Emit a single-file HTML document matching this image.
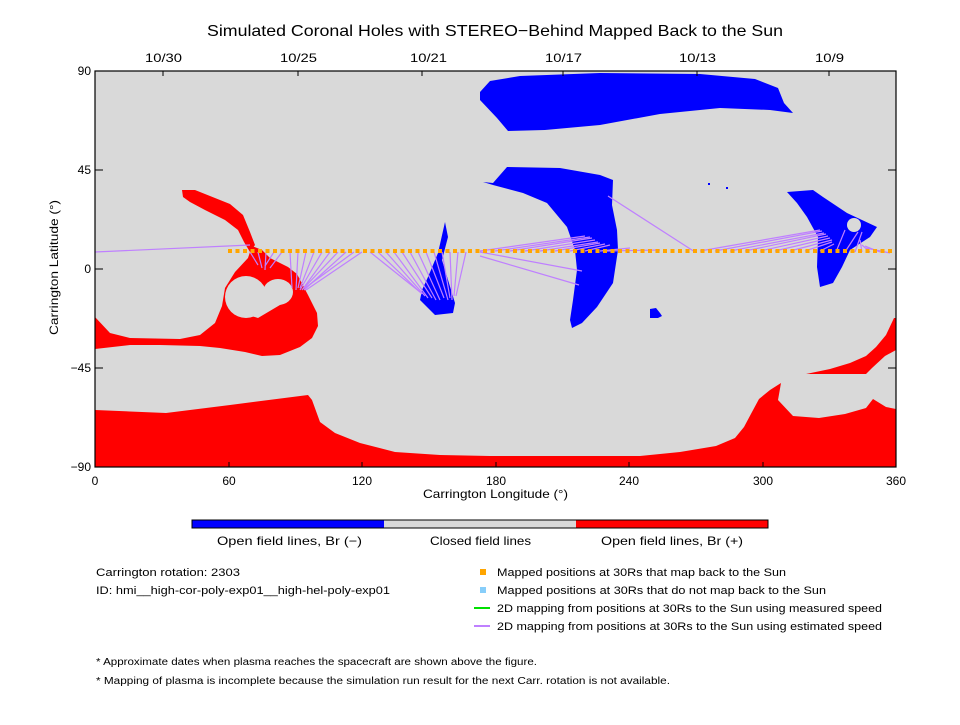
<!DOCTYPE html>
<html><head><meta charset="utf-8"><style>
body{margin:0;background:#fff;width:960px;height:720px;overflow:hidden;font-family:"Liberation Sans",sans-serif;}
svg text{font-family:"Liberation Sans",sans-serif;fill:#000;}
</style></head><body>
<svg width="960" height="720" xmlns="http://www.w3.org/2000/svg">
<text x="207" y="36" font-size="16" textLength="576" lengthAdjust="spacingAndGlyphs">Simulated Coronal Holes with STEREO−Behind Mapped Back to the Sun</text>
<g font-size="12">
<text x="145" y="62" textLength="37" lengthAdjust="spacingAndGlyphs">10/30</text><text x="280" y="62" textLength="37" lengthAdjust="spacingAndGlyphs">10/25</text><text x="410" y="62" textLength="37" lengthAdjust="spacingAndGlyphs">10/21</text><text x="545" y="62" textLength="37" lengthAdjust="spacingAndGlyphs">10/17</text><text x="679" y="62" textLength="37" lengthAdjust="spacingAndGlyphs">10/13</text><text x="815" y="62" textLength="29" lengthAdjust="spacingAndGlyphs">10/9</text>
</g>
<rect x="95" y="71" width="801" height="396" fill="#d9d9d9"/>
<polygon fill="#ff0000" points="95,410 166,413 230,405 308,395 312,400 320,422 335,433 360,443 395,452 440,455 490,456 640,456 680,452 716,446 735,438 744,427 752,412 759,399 770,390 781,383 778,400 793,416 819,418 845,414 866,408 873,399 886,407 896,409 896,467 95,467"/>
<polygon fill="#ff0000" points="806,374 830,369 850,363 866,356 876,347 886,335 894,318 896,318 896,350 885,356 872,368 866,374"/>
<polygon fill="#ff0000" points="95,317 110,333 130,338 180,339 200,335 215,323 222,306 225,288 235,272 248,258 252,246 262,250 270,258 288,267 297,274 308,295 317,313 318,326 312,338 300,347 280,355 262,356 245,352 220,348 200,346 160,345 130,345 95,349"/>
<polygon fill="#ff0000" points="182,190 195,190 210,196 230,204 243,215 250,232 255,245 250,252 244,242 238,230 225,220 205,210 190,202 183,197"/>
<ellipse cx="246" cy="297" rx="21" ry="21" fill="#d9d9d9"/>
<ellipse cx="278" cy="292" rx="15" ry="13" fill="#d9d9d9"/>
<polygon fill="#d9d9d9" points="232,310 258,318 285,302 262,298"/>
<polygon fill="#0000ff" points="480,92 490,81 520,76 600,73 700,74 755,79 778,88 784,103 793,113 770,110 720,108 660,114 600,125 545,130 508,131 497,118 480,100"/>
<polygon fill="#0000ff" points="483,182 493,183 507,167 560,168 600,175 613,180 612,205 617,230 618,250 613,283 597,307 582,323 572,328 570,320 573,300 577,270 575,250 567,227 547,203 523,193 493,185"/>
<polygon fill="#0000ff" points="650,309 656,308 660,313 662,316 658,318 650,318"/>
<rect x="708" y="183" width="2" height="2" fill="#0000ff"/><rect x="726" y="187" width="2" height="2" fill="#0000ff"/>
<polygon fill="#0000ff" points="787,192 813,190 823,197 847,213 877,227 870,237 850,250 842,267 833,283 820,287 817,267 818,237 807,217 797,203"/>
<circle cx="854" cy="225" r="7" fill="#d9d9d9"/>
<polygon fill="#0000ff" points="445,222 448,237 442,260 455,303 453,313 435,315 420,300 422,290 428,277 438,253"/>
<g stroke="#bf80ff" stroke-width="1.2" fill="none">
<polyline points="95,252 250,245"/>
<line x1="250" y1="252" x2="258" y2="265"/><line x1="258" y1="252" x2="262" y2="268"/><line x1="266" y1="252" x2="265" y2="270"/><line x1="274" y1="252" x2="265" y2="266"/><line x1="282" y1="252" x2="270" y2="268"/>
<line x1="290" y1="252" x2="292" y2="288"/><line x1="298" y1="252" x2="296" y2="290"/><line x1="306" y1="252" x2="298" y2="288"/><line x1="314" y1="252" x2="300" y2="288"/><line x1="322" y1="252" x2="300" y2="290"/><line x1="330" y1="252" x2="302" y2="290"/><line x1="338" y1="252" x2="303" y2="289"/><line x1="346" y1="252" x2="304" y2="290"/><line x1="354" y1="252" x2="305" y2="288"/><line x1="362" y1="252" x2="306" y2="290"/>
<line x1="370" y1="252" x2="420" y2="292"/><line x1="378" y1="252" x2="422" y2="294"/><line x1="386" y1="252" x2="425" y2="296"/><line x1="394" y1="252" x2="428" y2="298"/><line x1="402" y1="252" x2="432" y2="298"/><line x1="410" y1="252" x2="436" y2="300"/><line x1="418" y1="252" x2="440" y2="300"/><line x1="426" y1="252" x2="444" y2="298"/><line x1="434" y1="252" x2="448" y2="300"/><line x1="442" y1="252" x2="450" y2="298"/><line x1="450" y1="252" x2="452" y2="300"/><line x1="458" y1="252" x2="454" y2="296"/><line x1="466" y1="252" x2="456" y2="296"/>
<line x1="480" y1="252" x2="582" y2="271"/><line x1="480" y1="256" x2="579" y2="285"/>
<line x1="480" y1="251" x2="585" y2="236"/><line x1="495" y1="251" x2="590" y2="237"/><line x1="510" y1="251" x2="592" y2="238"/><line x1="525" y1="251" x2="595" y2="240"/><line x1="540" y1="251" x2="598" y2="242"/><line x1="555" y1="251" x2="600" y2="243"/><line x1="570" y1="251" x2="605" y2="244"/><line x1="585" y1="251" x2="610" y2="245"/><line x1="600" y1="251" x2="630" y2="248"/><line x1="605" y1="251" x2="660" y2="250"/>
<line x1="608" y1="196" x2="695" y2="252"/>
<line x1="700" y1="251" x2="820" y2="230"/><line x1="715" y1="251" x2="822" y2="231"/><line x1="730" y1="251" x2="824" y2="233"/><line x1="745" y1="251" x2="826" y2="234"/><line x1="760" y1="251" x2="828" y2="236"/><line x1="775" y1="251" x2="830" y2="238"/><line x1="790" y1="251" x2="832" y2="240"/><line x1="805" y1="251" x2="832" y2="242"/><line x1="820" y1="251" x2="834" y2="244"/>
<line x1="836" y1="252" x2="845" y2="230"/><line x1="845" y1="252" x2="858" y2="232"/><line x1="855" y1="252" x2="862" y2="232"/><line x1="862" y1="252" x2="860" y2="240"/><line x1="870" y1="252" x2="862" y2="245"/><line x1="880" y1="252" x2="865" y2="246"/><line x1="890" y1="253" x2="866" y2="248"/>
</g>
<line x1="228" y1="251" x2="896" y2="251" stroke="#ffa500" stroke-width="4" stroke-dasharray="4 3.5"/>
<rect x="95" y="71" width="801" height="396" fill="none" stroke="#000" stroke-width="1.2"/>
<g stroke="#000" stroke-width="1">
<line x1="229" y1="467" x2="229" y2="462"/><line x1="362" y1="467" x2="362" y2="462"/><line x1="496" y1="467" x2="496" y2="462"/><line x1="629" y1="467" x2="629" y2="462"/><line x1="763" y1="467" x2="763" y2="462"/>
<line x1="95" y1="170" x2="103" y2="170"/><line x1="95" y1="269" x2="103" y2="269"/><line x1="95" y1="368" x2="103" y2="368"/>
<line x1="896" y1="170" x2="888" y2="170"/><line x1="896" y1="269" x2="888" y2="269"/><line x1="896" y1="368" x2="888" y2="368"/>
<line x1="163" y1="71" x2="163" y2="76"/><line x1="298" y1="71" x2="298" y2="76"/><line x1="422" y1="71" x2="422" y2="76"/><line x1="563" y1="71" x2="563" y2="76"/><line x1="697" y1="71" x2="697" y2="76"/><line x1="829" y1="71" x2="829" y2="76"/>
</g>
<g font-size="12" text-anchor="middle">
<text x="95" y="485">0</text><text x="229" y="485">60</text><text x="362" y="485">120</text><text x="496" y="485">180</text><text x="629" y="485">240</text><text x="763" y="485">300</text><text x="896" y="485">360</text>
</g>
<text x="423" y="498" font-size="12" textLength="145" lengthAdjust="spacingAndGlyphs">Carrington Longitude (°)</text>
<g font-size="12" text-anchor="end">
<text x="91" y="75">90</text><text x="91" y="174">45</text><text x="91" y="273">0</text><text x="91" y="372">−45</text><text x="91" y="471">−90</text>
</g>
<text x="58" y="335" font-size="12" textLength="135" lengthAdjust="spacingAndGlyphs" transform="rotate(-90 58 335)">Carrington Latitude (°)</text>
<rect x="192" y="520" width="192" height="8" fill="#0000ff"/>
<rect x="384" y="520" width="192" height="8" fill="#d9d9d9"/>
<rect x="576" y="520" width="192" height="8" fill="#ff0000"/>
<rect x="192" y="520" width="576" height="8" fill="none" stroke="#000" stroke-width="1"/>
<g font-size="12">
<text x="217" y="545" textLength="145" lengthAdjust="spacingAndGlyphs">Open field lines, Br (−)</text><text x="430" y="545" textLength="101" lengthAdjust="spacingAndGlyphs">Closed field lines</text><text x="601" y="545" textLength="142" lengthAdjust="spacingAndGlyphs">Open field lines, Br (+)</text>
</g>
<g font-size="11">
<text x="96" y="576" textLength="144" lengthAdjust="spacingAndGlyphs">Carrington rotation: 2303</text>
<text x="96" y="594" textLength="294" lengthAdjust="spacingAndGlyphs">ID: hmi__high-cor-poly-exp01__high-hel-poly-exp01</text>
<rect x="480" y="569" width="6" height="6" fill="#ffa500"/><text x="497" y="576" textLength="289" lengthAdjust="spacingAndGlyphs">Mapped positions at 30Rs that map back to the Sun</text>
<rect x="480" y="587" width="6" height="6" fill="#87cefa"/><text x="497" y="594" textLength="329" lengthAdjust="spacingAndGlyphs">Mapped positions at 30Rs that do not map back to the Sun</text>
<line x1="474" y1="608" x2="490" y2="608" stroke="#00e000" stroke-width="2"/><text x="497" y="612" textLength="385" lengthAdjust="spacingAndGlyphs">2D mapping from positions at 30Rs to the Sun using measured speed</text>
<line x1="474" y1="626" x2="490" y2="626" stroke="#bf80ff" stroke-width="2"/><text x="497" y="630" textLength="385" lengthAdjust="spacingAndGlyphs">2D mapping from positions at 30Rs to the Sun using estimated speed</text>
</g>
<g font-size="10">
<text x="96" y="665" textLength="441" lengthAdjust="spacingAndGlyphs">* Approximate dates when plasma reaches the spacecraft are shown above the figure.</text>
<text x="96" y="684" textLength="574" lengthAdjust="spacingAndGlyphs">* Mapping of plasma is incomplete because the simulation run result for the next Carr. rotation is not available.</text>
</g>
</svg>
</body></html>
